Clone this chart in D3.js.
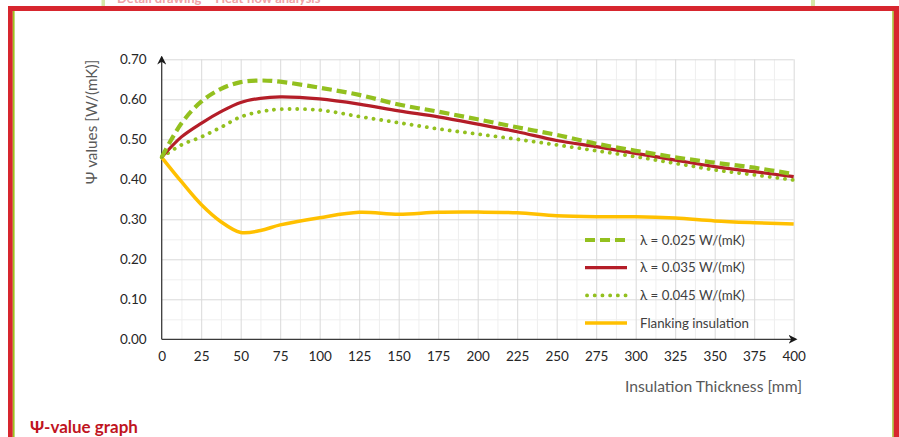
<!DOCTYPE html>
<html>
<head>
<meta charset="utf-8">
<script src="https://cdn.jsdelivr.net/npm/d3@7"></script>
<style>
  body { margin: 0; background: #fff; }
  svg { display: block; font-family: Lato, "Open Sans", sans-serif; }
</style>
</head>
<body>
<svg width="899" height="437"></svg>
<script>
// thickness steps [mm]
var thickness = [0, 12.5, 25, 37.5, 50, 62.5, 75, 100, 125, 150, 175, 200, 225, 250, 275, 300, 325, 350, 375, 400];

var psi025 = [0.455, 0.540, 0.594, 0.626, 0.643, 0.647, 0.644, 0.629, 0.611, 0.587, 0.569, 0.550, 0.530, 0.511, 0.489, 0.4715, 0.455, 0.4415, 0.429, 0.413];
var psi035 = [0.455, 0.506, 0.540, 0.569, 0.592, 0.6025, 0.606, 0.601, 0.588, 0.571, 0.556, 0.538, 0.519, 0.497, 0.4815, 0.465, 0.448, 0.4315, 0.419, 0.4065];
var psi045 = [0.455, 0.486, 0.506, 0.530, 0.556, 0.569, 0.575, 0.573, 0.557, 0.5415, 0.526, 0.513, 0.500, 0.486, 0.4715, 0.4565, 0.440, 0.4235, 0.411, 0.398];
var psiFlank = [0.455, 0.394, 0.337, 0.294, 0.267, 0.272, 0.286, 0.304, 0.3175, 0.3125, 0.3175, 0.318, 0.3165, 0.309, 0.3065, 0.3065, 0.303, 0.296, 0.2915, 0.288];

var seriesNames = ["\u03bb = 0.025 W/(mK)", "\u03bb = 0.035 W/(mK)", "\u03bb = 0.045 W/(mK)", "Flanking insulation"];
var xTicks = [0, 25, 50, 75, 100, 125, 150, 175, 200, 225, 250, 275, 300, 325, 350, 375, 400];
var yTicks = [0, 0.1, 0.2, 0.3, 0.4, 0.5, 0.6, 0.7];

var svg = d3.select("svg");

var margin = { top: 59.3, left: 161.7 };
var width = 632, height = 280;

// frame around the figure
svg.append("rect").attr("x", 101.5).attr("y", 0).attr("width", 3.5).attr("height", 7).attr("fill", "#d6e8a8");
svg.append("rect").attr("x", 811).attr("y", 0).attr("width", 4).attr("height", 7).attr("fill", "#d6e8a8");
svg.append("text").attr("x", 117).attr("y", 3).attr("fill", "#f0a3a6")
    .style("font-size", "13px").style("font-weight", "bold")
    .text("Detail drawing \u2013 Heat flow analysis");
svg.append("rect").attr("x", 8).attr("y", 6).attr("width", 891).attr("height", 5).attr("fill", "#d7262e");
svg.append("rect").attr("x", 8).attr("y", 6).attr("width", 4.8).attr("height", 431).attr("fill", "#d7262e");
svg.append("rect").attr("x", 12.8).attr("y", 11).attr("width", 1.8).attr("height", 426).attr("fill", "#9cc31e");
svg.append("rect").attr("x", 892.3).attr("y", 11).attr("width", 1.5).attr("height", 426).attr("fill", "#9cc31e");
svg.append("rect").attr("x", 893.8).attr("y", 6).attr("width", 5.2).attr("height", 431).attr("fill", "#d7262e");

var x = d3.scaleLinear().domain([0, 400]).range([0, width]);
var y = d3.scaleLinear().domain([0, 0.7]).range([height, 0]);

var g = svg.append("g")
    .attr("transform", "translate(" + margin.left + "," + margin.top + ")");

// minor grid
g.append("g")
    .attr("class", "grid minor")
    .call(d3.axisBottom(x).tickValues(d3.range(12.5, 400, 25)).tickSize(height).tickFormat(""))
    .call(a => a.select(".domain").remove())
    .call(a => a.selectAll("line").attr("stroke", "#efefef"));
g.append("g")
    .attr("class", "grid minor")
    .call(d3.axisLeft(y).tickValues(d3.range(0.05, 0.7, 0.1)).tickSize(-width).tickFormat(""))
    .call(a => a.select(".domain").remove())
    .call(a => a.selectAll("line").attr("stroke", "#efefef"));

// major grid
g.append("g")
    .attr("class", "grid major")
    .call(d3.axisBottom(x).tickValues(xTicks.slice(1)).tickSize(height).tickFormat(""))
    .call(a => a.select(".domain").remove())
    .call(a => a.selectAll("line").attr("stroke", "#d9d9d9"));
g.append("g")
    .attr("class", "grid major")
    .call(d3.axisLeft(y).tickValues(yTicks.slice(1)).tickSize(-width).tickFormat(""))
    .call(a => a.select(".domain").remove())
    .call(a => a.selectAll("line").attr("stroke", "#d9d9d9"));

// tick labels
g.append("g")
    .attr("class", "axis axis--x")
    .attr("transform", "translate(0," + height + ")")
    .call(d3.axisBottom(x).tickValues(xTicks).tickSize(0).tickPadding(12))
    .call(a => a.select(".domain").remove())
    .call(a => a.selectAll("text").attr("fill", "#262626").style("font-size", "13.5px").style("font-family", "Lato"));

g.append("g")
    .attr("class", "axis axis--y")
    .call(d3.axisLeft(y).tickValues(yTicks).tickSize(0).tickPadding(15).tickFormat(d3.format(".2f")))
    .call(a => a.select(".domain").remove())
    .call(a => a.selectAll("text").attr("fill", "#262626").style("font-size", "13.5px").style("font-family", "Lato"));

// axis lines with arrows
var defs = svg.append("defs");
defs.append("marker")
    .attr("id", "arrow")
    .attr("viewBox", "0 0 10 10")
    .attr("refX", 8).attr("refY", 5)
    .attr("markerWidth", 9).attr("markerHeight", 9)
    .attr("markerUnits", "userSpaceOnUse")
    .attr("orient", "auto")
  .append("path")
    .attr("d", "M0,0 L10,5 L0,10 L3,5 Z")
    .attr("fill", "#1a1a1a");

g.append("line")
    .attr("x1", 0).attr("y1", height).attr("x2", 0).attr("y2", -2)
    .attr("stroke", "#3a3a3a").attr("stroke-width", 1.3)
    .attr("marker-end", "url(#arrow)");
g.append("line")
    .attr("x1", 0).attr("y1", height).attr("x2", width + 2).attr("y2", height)
    .attr("stroke", "#3a3a3a").attr("stroke-width", 1.3)
    .attr("marker-end", "url(#arrow)");

// series
var styles = [
    { values: psi025, color: "#93c01f", width: 4.2, dash: "10,5", cap: "butt" },
    { values: psi035, color: "#b41d28", width: 3.2, dash: null, cap: "butt" },
    { values: psi045, color: "#93c01f", width: 3.8, dash: "0.1,7.6", cap: "round" },
    { values: psiFlank, color: "#ffc000", width: 3.5, dash: null, cap: "butt" }
];

var line = d3.line()
    .x(function (d) { return x(d[0]); })
    .y(function (d) { return y(d[1]); })
    .curve(d3.curveCatmullRom.alpha(0.5));

// draw flanking first, then the lambdas on top
[3, 2, 1, 0].forEach(function (i) {
    var s = styles[i];
    g.append("path")
        .datum(thickness.map(function (t, k) { return [t, s.values[k]]; }))
        .attr("fill", "none")
        .attr("stroke", s.color)
        .attr("stroke-width", s.width)
        .attr("stroke-dasharray", s.dash)
        .attr("stroke-linecap", s.cap)
        .attr("d", line);
});

// legend
var legend = svg.append("g").attr("transform", "translate(585,240)");
seriesNames.forEach(function (name, i) {
    var s = styles[i];
    var row = legend.append("g").attr("transform", "translate(0," + (i * 27.7) + ")");
    row.append("line")
        .attr("x1", i == 2 ? 2 : 0).attr("x2", 42).attr("y1", 0).attr("y2", 0)
        .attr("stroke", s.color)
        .attr("stroke-width", s.width)
        .attr("stroke-dasharray", s.dash)
        .attr("stroke-linecap", s.cap);
    row.append("text")
        .attr("x", 55).attr("y", 4.5)
        .attr("fill", "#404040")
        .style("font-size", "13.3px")
        .text(name);
});

// axis titles
svg.append("text")
    .attr("x", 802).attr("y", 392)
    .attr("text-anchor", "end")
    .attr("fill", "#595959")
    .style("font-size", "15.7px")
    .text("Insulation Thickness [mm]");

svg.append("text")
    .attr("transform", "translate(97,122) rotate(-90)")
    .attr("text-anchor", "middle")
    .attr("fill", "#595959")
    .style("font-size", "15.3px")
    .text("\u03a8 values [W/(mK)]");

// caption
svg.append("text")
    .attr("x", 30).attr("y", 433)
    .attr("fill", "#c0141f")
    .style("font-size", "17px")
    .style("font-weight", "bold")
    .text("\u03a8-value graph");
</script>
</body>
</html>
